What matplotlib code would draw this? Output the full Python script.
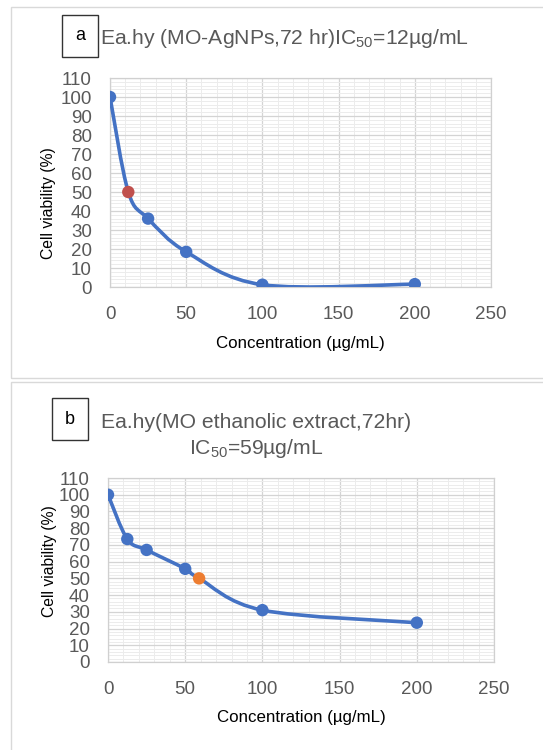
import matplotlib
matplotlib.use("Agg")
import matplotlib.pyplot as plt
import numpy as np
from matplotlib.path import Path
from matplotlib.patches import PathPatch, Rectangle
from matplotlib.ticker import MultipleLocator

plt.rcParams["font.family"] = ["Liberation Sans", "DejaVu Sans"]
plt.rcParams["mathtext.fontset"] = "custom"
plt.rcParams["mathtext.rm"] = "Liberation Sans"
plt.rcParams["mathtext.it"] = "Liberation Sans"
plt.rcParams["mathtext.default"] = "regular"

# panel a: MO-AgNPs
conc_a = [0, 12, 25, 50, 100, 200]
viab_a = [100, 50, 36, 18.5, 1.2, 1.5]
ic50_idx_a = 1
# panel b: MO ethanolic extract
conc_b = [0, 12.5, 25, 50, 59, 100, 200]
viab_b = [100, 73.5, 67, 55.7, 50, 31, 23.5]
ic50_idx_b = 4

LINE = "#4472C4"
GRAY = "#595959"


def smooth_path(x, y):
    # Excel-like smoothed line: Catmull-Rom segments as cubic Beziers
    p = np.column_stack([x, y]).astype(float)
    n = len(p)
    verts = [p[0]]
    codes = [Path.MOVETO]
    for i in range(n - 1):
        p0 = p[i - 1] if i > 0 else p[i]
        p3 = p[i + 2] if i + 2 < n else p[i + 1]
        c1 = p[i] + (p[i + 1] - p0) / 6
        c2 = p[i + 1] - (p3 - p[i]) / 6
        verts += [c1, c2, p[i + 1]]
        codes += [Path.CURVE4] * 3
    return Path(verts, codes)


def draw_panel(ax, x, y, hi, hi_color, ylab_xy, xlab_y):
    ax.set_xlim(0, 250)
    ax.set_ylim(0, 110)
    ax.xaxis.set_major_locator(MultipleLocator(50))
    ax.xaxis.set_minor_locator(MultipleLocator(10))
    ax.yaxis.set_major_locator(MultipleLocator(10))
    ax.yaxis.set_minor_locator(MultipleLocator(2))
    ax.grid(which="major", color="#d4d4d4", linewidth=0.9, zorder=0)
    ax.grid(which="minor", color="#ececec", linewidth=0.7, zorder=0)
    ax.set_axisbelow(True)
    for s in ax.spines.values():
        s.set_color("#d0d0d0")
        s.set_linewidth(0.9)
    ax.tick_params(which="both", length=0, labelsize=13.5, colors=GRAY)
    ax.tick_params(axis="x", pad=14)
    ax.tick_params(axis="y", pad=13)
    ax.add_patch(PathPatch(smooth_path(x, y), fill=False, edgecolor=LINE,
                           linewidth=2.6, capstyle="round", zorder=3))
    cols = [hi_color if i == hi else LINE for i in range(len(x))]
    ax.scatter(x, y, s=80, c=cols, zorder=4, linewidths=0)
    ax.set_xlabel("Concentration (µg/mL)", fontsize=12.2)
    ax.set_ylabel("Cell viability (%)", fontsize=11.3)
    ax.yaxis.set_label_coords(*ylab_xy)
    ax.xaxis.set_label_coords(0.5, xlab_y)


fig = plt.figure(figsize=(5.43, 7.5), dpi=100)

# outer panel frames
fig.patches.append(Rectangle((11 / 543, 1 - 378 / 750), 540 / 543, 371 / 750,
                             transform=fig.transFigure, fill=False,
                             edgecolor="#d9d9d9", linewidth=1.0))
fig.patches.append(Rectangle((11 / 543, -0.01), 540 / 543, 1 - 382 / 750 + 0.01,
                             transform=fig.transFigure, fill=False,
                             edgecolor="#d9d9d9", linewidth=1.0))

ax1 = fig.add_axes([110 / 543, 1 - 287 / 750, 381 / 543, 209 / 750])
draw_panel(ax1, conc_a, viab_a, ic50_idx_a, "#C0504D",
           ((56 - 110) / 381, (287 - 203) / 209), -(336 - 287) / 209)

ax2 = fig.add_axes([108 / 543, 1 - 662 / 750, 386 / 543, 184 / 750])
draw_panel(ax2, conc_b, viab_b, ic50_idx_b, "#ED7D31",
           ((57 - 108) / 386, (662 - 561) / 184), -(710 - 662) / 184)

# label boxes and titles
fig.text(80 / 543, 1 - 36 / 750, "a", fontsize=13, ha="center", va="center",
         bbox=dict(boxstyle="square,pad=0.7", facecolor="white",
                   edgecolor="#333333", linewidth=1.0))
fig.text(100 / 543, 1 - 38 / 750, "Ea.hy (MO-AgNPs,72 hr)IC$_{50}$=12µg/mL",
         fontsize=15.2, color=GRAY, ha="left", va="center")

fig.text(70 / 543, 1 - 419 / 750, "b", fontsize=13, ha="center", va="center",
         bbox=dict(boxstyle="square,pad=0.7", facecolor="white",
                   edgecolor="#333333", linewidth=1.0))
fig.text(256 / 543, 1 - 423 / 750, "Ea.hy(MO ethanolic extract,72hr)",
         fontsize=15.2, color=GRAY, ha="center", va="center")
fig.text(256 / 543, 1 - 449 / 750, "IC$_{50}$=59µg/mL",
         fontsize=15.2, color=GRAY, ha="center", va="center")

fig.savefig("out.png", dpi=100)
